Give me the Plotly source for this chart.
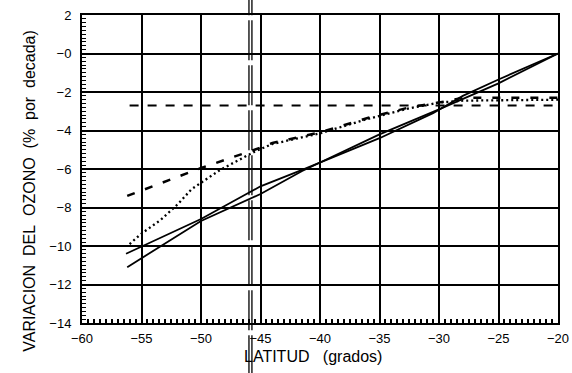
import plotly.graph_objects as go

# ---- data ----
x_ticks = [-60, -55, -50, -45, -40, -35, -30, -25, -20]
x_ticktext = ["\u221260", "\u221255", "\u221250", "\u221245", "\u221240", "\u221235", "\u221230", "\u221225", "\u221220"]
y_ticks = [2, 0, -2, -4, -6, -8, -10, -12, -14]
y_ticktext = ["2", "\u22120", "\u22122", "\u22124", "\u22126", "\u22128", "\u221210", "\u221212", "\u221214"]

# horizontal dashed reference
lat_a = [-56, -20]
var_a = [-2.7, -2.7]

# long-dash series
lat_b = [-56.2, -50, -45.5, -44, -40, -36, -32.5, -30, -28, -20]
var_b = [-7.4, -5.95, -5.0, -4.65, -4.1, -3.35, -2.8, -2.55, -2.3, -2.3]

# dotted series
lat_c = [-56, -55.1, -53.4, -51.9, -50.8, -48.4, -45.5, -44, -40, -36, -32.5, -30, -28, -20]
var_c = [-9.9, -9.4, -8.65, -7.8, -7.05, -6.05, -5.1, -4.7, -4.15, -3.4, -2.85, -2.55, -2.45, -2.4]

# solid series (upper start)
lat_u = [-56.3, -50, -45, -41.5, -35, -30.5, -28, -25, -20]
var_u = [-10.4, -8.6, -6.9, -6.05, -4.4, -3.1, -2.2, -1.35, 0]

# solid series (lower start)
lat_l = [-56.2, -50, -45, -41.5, -35, -30, -25, -20]
var_l = [-11.1, -8.7, -7.3, -6.1, -4.2, -2.9, -1.55, 0]

ref_lat = [-45.97, -45.72]  # double vertical mark on the scan

FONT = "Liberation Sans"
fig = go.Figure()

fig.add_trace(go.Scatter(x=lat_a, y=var_a, mode="lines",
                         line=dict(color="black", width=2, dash="9px,9px")))
fig.add_trace(go.Scatter(x=lat_b, y=var_b, mode="lines",
                         line=dict(color="black", width=2.5, dash="8px,11px")))
fig.add_trace(go.Scatter(x=lat_c, y=var_c, mode="lines",
                         line=dict(color="black", width=2.3, dash="2px,3px")))
fig.add_trace(go.Scatter(x=lat_u, y=var_u, mode="lines",
                         line=dict(color="black", width=1.8)))
fig.add_trace(go.Scatter(x=lat_l, y=var_l, mode="lines",
                         line=dict(color="black", width=1.8)))

for xv in ref_lat:
    fig.add_shape(type="line", xref="x", yref="paper", x0=xv, x1=xv, y0=-0.17, y1=1.06,
                  line=dict(color="black", width=1.3, dash="40px,5px"))

fig.update_xaxes(range=[-60, -20], tickvals=x_ticks, ticktext=x_ticktext,
                 showgrid=True, gridcolor="black", gridwidth=2,
                 showline=True, linecolor="black", linewidth=2, mirror=True,
                 ticks="inside", ticklen=5, tickcolor="black", tickwidth=1.5,
                 minor=dict(dtick=0.5, tick0=-60, ticks="inside", ticklen=4,
                            tickcolor="black", tickwidth=1.5, showgrid=False),
                 zeroline=False, ticklabelstandoff=2, automargin=False,
                 tickfont=dict(family=FONT, size=13, color="black"))
fig.update_yaxes(range=[-14, 2], tickvals=y_ticks, ticktext=y_ticktext,
                 showgrid=True, gridcolor="black", gridwidth=1.5,
                 showline=True, linecolor="black", linewidth=2, mirror=True,
                 ticks="inside", ticklen=5, tickcolor="black", tickwidth=1.5,
                 minor=dict(dtick=0.2, tick0=-14, ticks="inside", ticklen=4,
                            tickcolor="black", tickwidth=1, showgrid=False),
                 zeroline=False, ticklabelstandoff=6, automargin=False,
                 tickfont=dict(family=FONT, size=13, color="black"))

sp = "\u00a0\u00a0"
fig.add_annotation(text="VARIACION" + sp + "DEL" + sp + "OZONO" + sp + "(%" + sp + "por" + sp + "decada)",
                   xref="paper", yref="paper", x=-0.111, y=0.43, textangle=-90,
                   showarrow=False, xanchor="center", yanchor="middle",
                   font=dict(family=FONT, size=16, color="black"))
fig.add_annotation(text="LATITUD" + "\u00a0\u00a0\u00a0" + "(grados)",
                   xref="paper", yref="paper", x=0.485, y=-0.108,
                   showarrow=False, xanchor="center", yanchor="middle",
                   font=dict(family=FONT, size=16, color="black"))

fig.update_layout(width=572, height=373, showlegend=False,
                  margin=dict(l=82, r=14, t=15, b=50),
                  paper_bgcolor="white", plot_bgcolor="white")

fig.write_html("out.html", config={"displayModeBar": False},
               post_script="document.body.style.margin='0px';")
